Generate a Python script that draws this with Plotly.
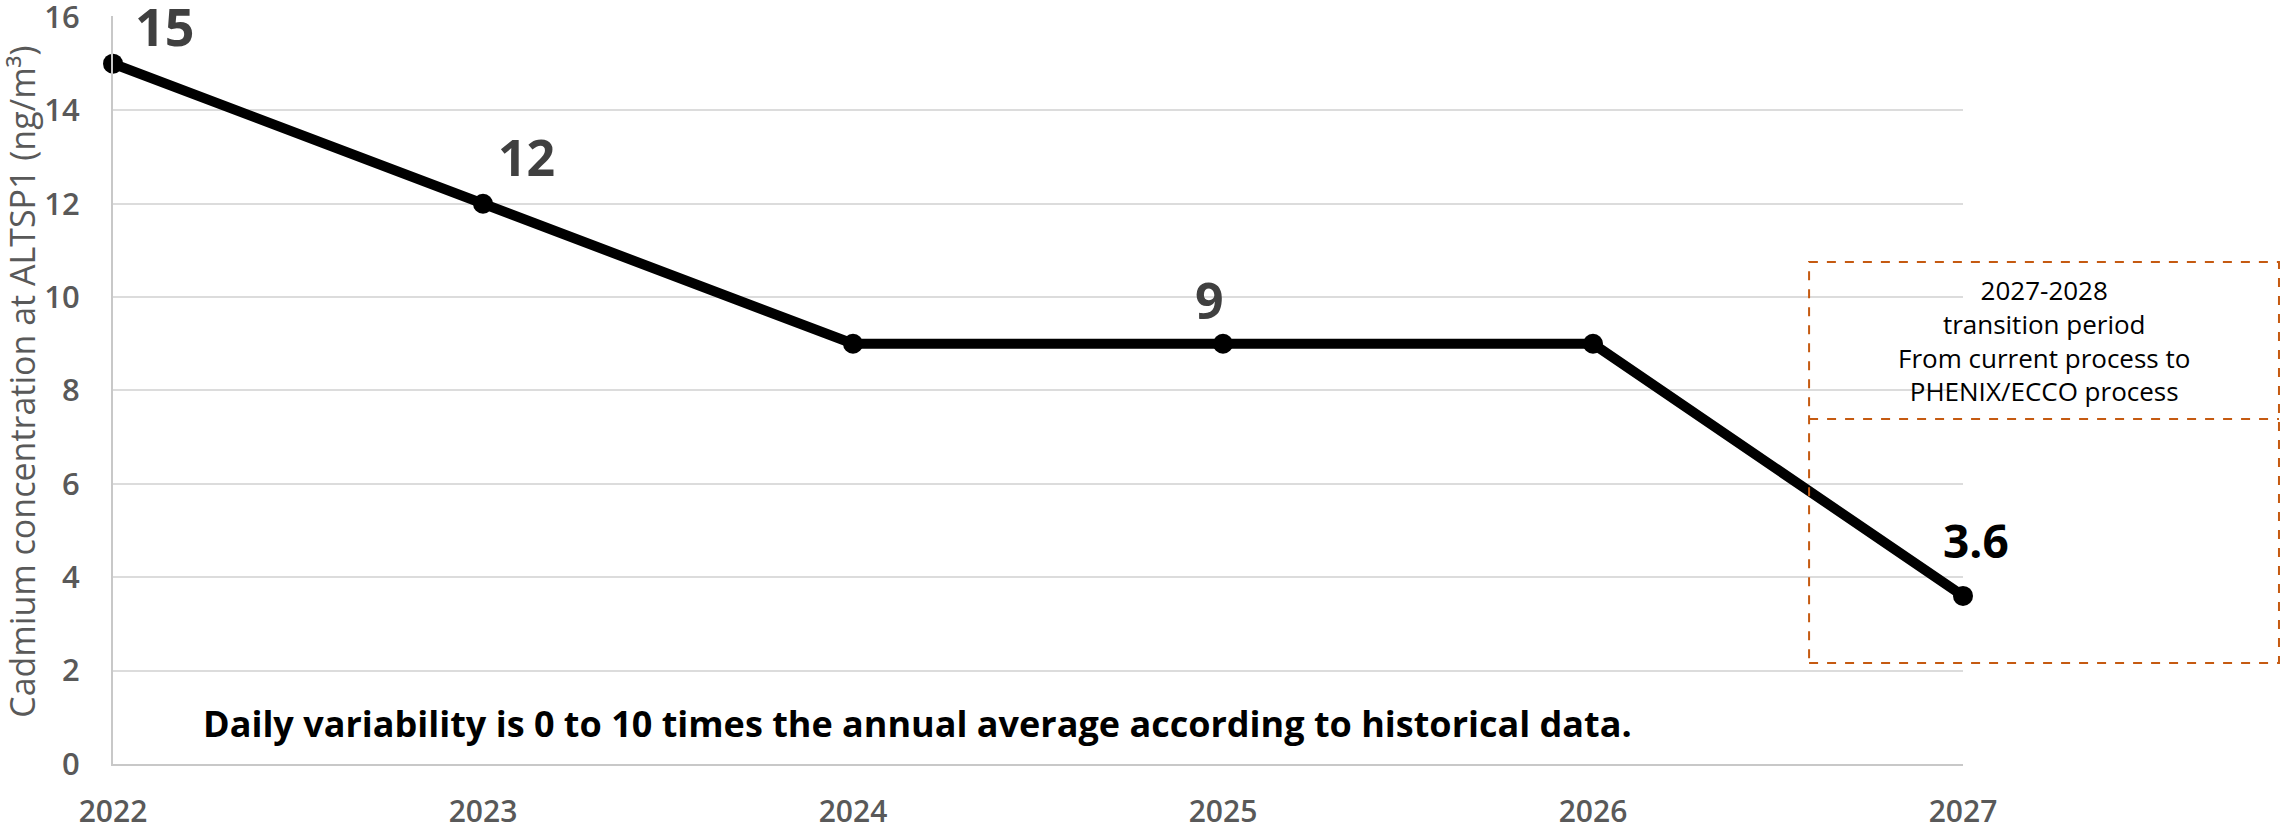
import plotly.graph_objects as go

years = [2022, 2023, 2024, 2025, 2026, 2027]
cadmium = [15, 12, 9, 9, 9, 3.6]
label_years = [2022, 2023, 2025, 2027]
label_texts = ["15", "12", "9", "3.6"]
y_ticks = [0, 2, 4, 6, 8, 10, 12, 14, 16]
y_title = "Cadmium concentration at ALTSP1 (ng/m³)"
note_text = "Daily variability is 0 to 10 times the annual average according to historical data."
box_text = "2027-2028<br>transition period<br>From current process to<br>PHENIX/ECCO process"

FONT = "Open Sans"

fig = go.Figure()
fig.add_trace(go.Scatter(
    x=years, y=cadmium, mode="lines+markers",
    line=dict(color="black", width=10),
    marker=dict(color="black", size=20),
    cliponaxis=False, hoverinfo="skip", showlegend=False,
))

label_style = {
    "15": dict(xshift=51, yshift=38, color="#404040", size=52),
    "12": dict(xshift=43, yshift=47, color="#404040", size=50),
    "9": dict(xshift=-14, yshift=44, color="#404040", size=50),
    "3.6": dict(xshift=13, yshift=56, color="#000000", size=46),
}
for yr, txt in zip(label_years, label_texts):
    val = cadmium[years.index(yr)]
    st = label_style[txt]
    fig.add_annotation(x=yr, y=val, text="<b>%s</b>" % txt, showarrow=False,
                       xshift=st["xshift"], yshift=st["yshift"],
                       font=dict(family=FONT, size=st["size"], color=st["color"]))

# y axis title
fig.add_annotation(xref="paper", yref="paper", x=-0.0492, y=0.511, text=y_title,
                   textangle=-90, showarrow=False, xanchor="center", yanchor="middle",
                   font=dict(family=FONT, size=34, color="#595959"))

# note
fig.add_annotation(xref="paper", yref="paper", x=0.4346, y=0.0535, text="<b>%s</b>" % note_text,
                   showarrow=False, xanchor="center", yanchor="middle",
                   font=dict(family=FONT, size=36, color="#000000"))

# transition box
orange = "#C55A11"
fig.add_shape(type="rect", xref="paper", yref="paper", x0=0.9168, x1=1.1708, y0=0.135, y1=0.6711,
              line=dict(color=orange, width=2, dash="dash"), fillcolor="rgba(0,0,0,0)", layer="above")
fig.add_shape(type="line", xref="paper", yref="paper", x0=0.9168, x1=1.1708, y0=0.4612, y1=0.4612,
              line=dict(color=orange, width=2, dash="dash"), layer="above")
fig.add_annotation(xref="paper", yref="paper", x=(0.9168 + 1.1708) / 2, y=(0.6711 + 0.4612) / 2,
                   text=box_text, showarrow=False, align="center", xanchor="center", yanchor="middle",
                   font=dict(family=FONT, size=26, color="#000000"))

fig.update_layout(
    width=2281, height=831,
    margin=dict(l=113, r=318, t=16, b=67, autoexpand=False),
    paper_bgcolor="white", plot_bgcolor="white",
    font=dict(family=FONT),
    xaxis=dict(range=[2022, 2027], tickvals=years, ticktext=[str(y) for y in years],
               showgrid=False, zeroline=False, showline=True, linecolor="#c8c8c8", linewidth=2,
               ticks="", ticklabelstandoff=20, automargin=False, ticklabeloverflow="allow",
               tickfont=dict(family=FONT, size=30, color="#595959", weight=600)),
    yaxis=dict(range=[0, 16.02], tickvals=y_ticks, showgrid=True, gridcolor="#dcdcdc", gridwidth=2,
               zeroline=False, showline=True, linecolor="#c8c8c8", linewidth=2,
               ticks="", ticklabelstandoff=25, automargin=False, ticklabeloverflow="allow",
               tickfont=dict(family=FONT, size=31, color="#595959", weight=600)),
)

fig.write_html("out.html")
